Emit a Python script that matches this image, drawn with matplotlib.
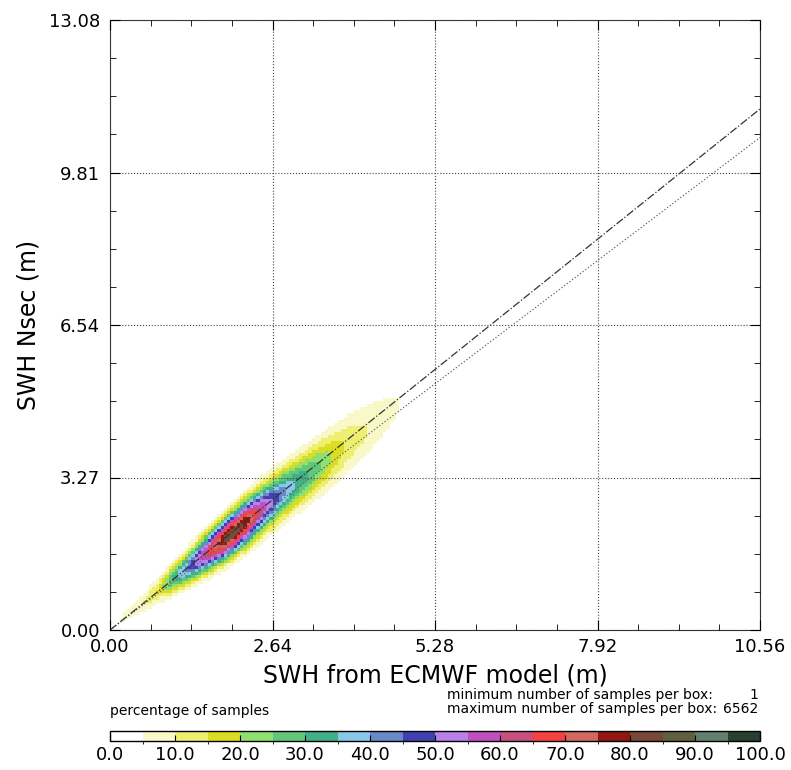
import numpy as np
import matplotlib
matplotlib.use('Agg')
import matplotlib.pyplot as plt
from matplotlib.colors import ListedColormap, BoundaryNorm

# axis limits / ticks
x_max = 10.56
y_max = 13.08
x_ticks = [0.00, 2.64, 5.28, 7.92, 10.56]
y_ticks = [0.00, 3.27, 6.54, 9.81, 13.08]
n_bins = 200

# ridge of the 2D histogram (x, centre y, peak %, spread)
ridge_x = [0.15, 0.5, 0.8, 1.0, 1.3, 1.6, 1.9, 2.2, 2.5, 2.8, 3.1, 3.4, 3.7, 4.0, 4.4, 4.7]
ridge_y = [0.20, 0.55, 0.87, 1.07, 1.37, 1.68, 1.98, 2.30, 2.62, 2.93, 3.22, 3.52, 3.82, 4.12, 4.52, 4.85]
ridge_peak = [5.5, 9, 16, 30, 46, 66, 84, 80, 58, 42, 33, 26, 17, 12, 8, 5.5]
ridge_sigma = [0.10, 0.15, 0.19, 0.21, 0.24, 0.27, 0.29, 0.31, 0.33, 0.35, 0.36, 0.38, 0.41, 0.44, 0.42, 0.34]

# regression line
fit_slope = 1.058
fit_intercept = 0.0

min_samples = 1
max_samples = 6562

level_colors = ['#ffffff', '#f8f8c8', '#eeee70', '#dcdc20', '#90e070',
                '#60c878', '#40b088', '#88c8e8', '#6888c8', '#4040b0',
                '#b880e8', '#c050c0', '#c85080', '#f84040', '#d06860',
                '#901810', '#784838', '#606040', '#608070', '#284030']
levels = np.arange(0, 105, 5)

plt.rcParams['font.family'] = 'DejaVu Sans'

fig = plt.figure(figsize=(7.91, 7.70), dpi=100)
ax = fig.add_axes([110 / 791, 140 / 770, 650 / 791, 610 / 770])

xe = np.linspace(0, x_max, n_bins + 1)
ye = np.linspace(0, y_max, n_bins + 1)
xc = 0.5 * (xe[:-1] + xe[1:])
yc = 0.5 * (ye[:-1] + ye[1:])
cy = np.interp(xc, ridge_x, ridge_y)
pk = np.interp(xc, ridge_x, ridge_peak, left=0, right=0)
sg = np.interp(xc, ridge_x, ridge_sigma)
Y = yc[:, None]
pct = pk[None, :] * np.exp(-0.5 * ((Y - cy[None, :]) / sg[None, :]) ** 2)
pct = np.ma.masked_less(pct, 1)

cmap = ListedColormap(level_colors)
norm = BoundaryNorm(levels, cmap.N)
mesh = ax.pcolormesh(xe, ye, pct, cmap=cmap, norm=norm)

xl = np.array([0, x_max])
ax.plot(xl, xl, linestyle=':', color='#666666', linewidth=0.9)
ax.plot(xl, fit_slope * xl + fit_intercept, linestyle='-.', color='#333333', linewidth=0.9)

ax.set_xlim(0, x_max)
ax.set_ylim(0, y_max)
ax.set_xticks(x_ticks)
ax.set_yticks(y_ticks)
ax.set_xticklabels(['%.2f' % v for v in x_ticks])
ax.set_yticklabels(['%.2f' % v for v in y_ticks])
ax.set_xticks(np.arange(0, x_max + 0.01, x_ticks[1] / 4), minor=True)
ax.set_yticks(np.arange(0, y_max + 0.01, y_ticks[1] / 4), minor=True)
ax.tick_params(which='both', direction='in', top=True, right=True, labelsize=13)
ax.tick_params(which='major', length=7)
ax.tick_params(which='minor', length=4)
ax.tick_params(axis='x', pad=6)
ax.tick_params(axis='y', pad=7)
ax.grid(True, which='major', linestyle=':', color='#444444', linewidth=0.8)
ax.set_axisbelow(False)
for s in ax.spines.values():
    s.set_color('#333333')

ax.set_xlabel('SWH from ECMWF model (m)', fontsize=17, labelpad=5)
ax.set_ylabel('SWH Nsec (m)', fontsize=17, labelpad=6)

# colour bar
cax = fig.add_axes([110 / 791, 29 / 770, 650 / 791, 10 / 770])
cb = fig.colorbar(mesh, cax=cax, orientation='horizontal', ticks=range(0, 101, 10))
cb.ax.set_xticklabels(['%.1f' % v for v in range(0, 101, 10)])
cax.tick_params(direction='in', length=4, labelsize=13)
cb.outline.set_linewidth(1)

fs = 10
fig.text(110 / 791, 1 - 711 / 770, 'percentage of samples', fontsize=fs, va='center')
fig.text(447 / 791, 1 - 695 / 770, 'minimum number of samples per box:', fontsize=fs, va='center')
fig.text(758 / 791, 1 - 695 / 770, str(min_samples), fontsize=fs, va='center', ha='right')
fig.text(447 / 791, 1 - 709 / 770, 'maximum number of samples per box:', fontsize=fs, va='center')
fig.text(758 / 791, 1 - 709 / 770, str(max_samples), fontsize=fs, va='center', ha='right')

fig.savefig('out.png', dpi=100)
